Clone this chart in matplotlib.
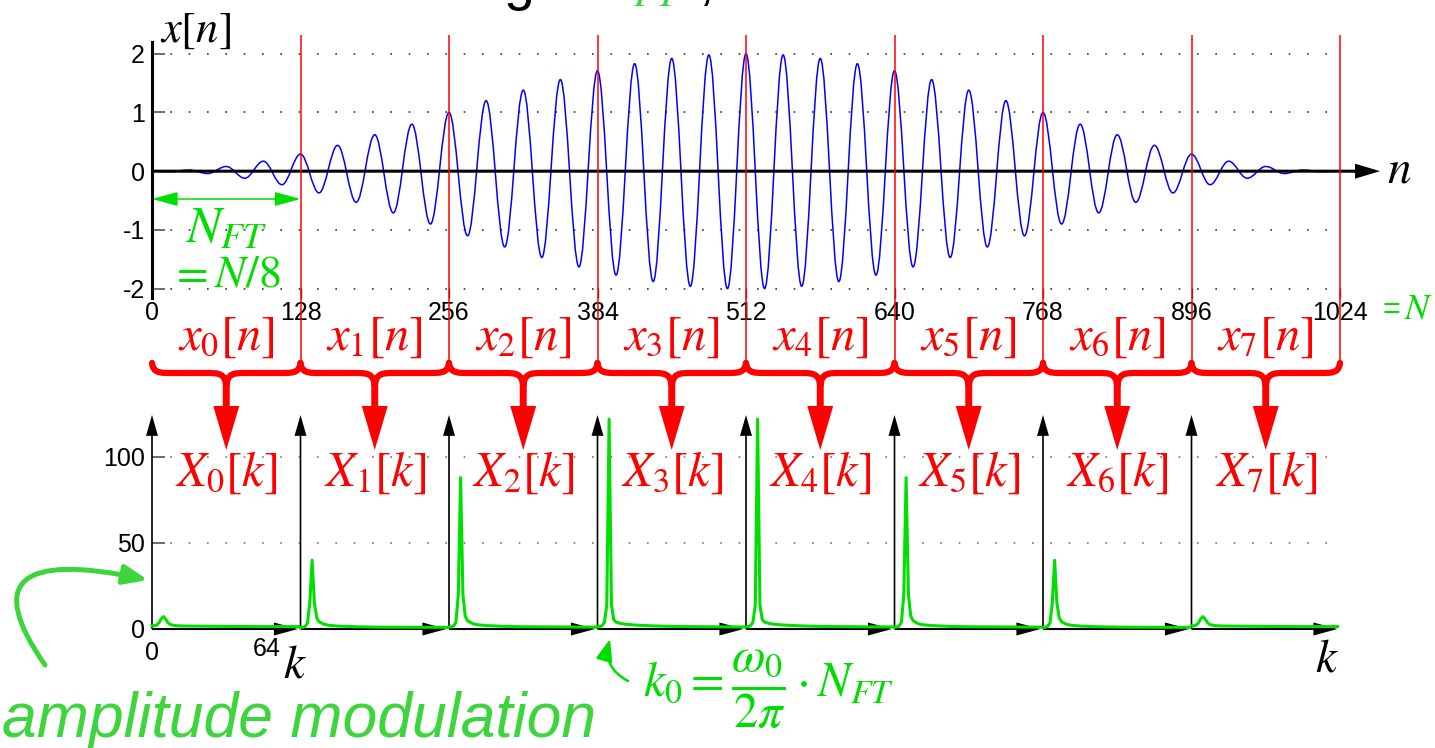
import numpy as np
import matplotlib
matplotlib.use("Agg")
import matplotlib.pyplot as plt
from matplotlib.path import Path
from matplotlib.patches import PathPatch, FancyArrowPatch, ArrowStyle
from matplotlib import transforms

plt.rcParams['mathtext.fontset'] = 'stix'
plt.rcParams['font.family'] = ['Liberation Sans', 'DejaVu Sans']
plt.rcParams['axes.unicode_minus'] = False

# ---- data ----
seg_edges = [0, 128, 256, 384, 512, 640, 768, 896, 1024]
y_ticks = [-2, -1, 0, 1, 2]

# x[n]: extrema of the AM signal, one every 16 samples (half carrier period)
n_ext = list(range(0, 1025, 16))
x_ext = [0.0, -0.01, 0.02, -0.04, 0.08, -0.12, 0.17, -0.23, 0.29, -0.37,
         0.44, -0.53, 0.62, -0.71, 0.80, -0.90, 1.00, -1.10, 1.20, -1.29,
         1.38, -1.47, 1.56, -1.63, 1.71, -1.77, 1.83, -1.88, 1.92, -1.96,
         1.98, -2.00, 2.00, -2.00, 1.98, -1.96, 1.92, -1.88, 1.83, -1.77,
         1.71, -1.63, 1.56, -1.47, 1.38, -1.29, 1.20, -1.10, 1.00, -0.90,
         0.80, -0.71, 0.62, -0.53, 0.44, -0.37, 0.29, -0.23, 0.17, -0.12,
         0.08, -0.04, 0.02, -0.01, 0.0]

# |X_i[k]| for each 128-sample segment, read at these bins
k_pts = [0, 1, 2, 3, 4, 5, 6, 7, 8, 10, 12, 16, 24, 32, 48, 63]
spec_0 = [1.8, 1.9, 2.3, 3.6, 6.0, 7.2, 5.5, 3.5, 2.5, 2.0, 1.8, 1.7, 1.6, 1.5, 1.4, 1.4]
spec_1 = [0.8, 1.0, 1.5, 3.5, 15, 40, 15, 6.5, 4.2, 2.8, 2.2, 1.7, 1.3, 1.1, 1.0, 1.0]
spec_2 = [1.0, 1.2, 1.8, 4.0, 20, 88, 20, 7.5, 4.8, 3.2, 2.5, 2.0, 1.5, 1.3, 1.2, 1.1]
spec_3 = [1.2, 1.4, 2.0, 4.0, 14, 122, 14, 5.5, 4.0, 3.2, 2.8, 2.3, 1.8, 1.5, 1.3, 1.2]
spec_4 = [1.2, 1.4, 2.0, 4.0, 14, 122, 14, 5.5, 4.0, 3.2, 2.8, 2.3, 1.8, 1.5, 1.3, 1.2]
spec_5 = [1.0, 1.2, 1.8, 4.0, 20, 88, 20, 7.5, 4.8, 3.2, 2.5, 2.0, 1.5, 1.3, 1.2, 1.1]
spec_6 = [0.8, 1.0, 1.5, 3.5, 15, 40, 15, 6.5, 4.2, 2.8, 2.2, 1.7, 1.3, 1.1, 1.0, 1.0]
spec_7 = [1.8, 1.9, 2.3, 3.6, 6.0, 7.2, 5.5, 3.5, 2.5, 2.0, 1.8, 1.7, 1.6, 1.5, 1.4, 1.4]
spectra = [spec_0, spec_1, spec_2, spec_3, spec_4, spec_5, spec_6, spec_7]
spec_ticks = [0, 50, 100]

W, H = 1435, 748
RED = '#ff0000'
GREEN = '#00dd00'
LGREEN = '#3dd43d'

fig = plt.figure(figsize=(W / 100, H / 100), dpi=100)

# ---- top: x[n] ----
ax1 = fig.add_axes([152 / W, 1 - 298 / H, 1188 / W, 256 / H])
ax1.set_xlim(0, 1024)
ax1.set_ylim(-2.16, 2.2)
for s in ['top', 'right', 'bottom']:
    ax1.spines[s].set_visible(False)
ax1.spines['left'].set_linewidth(2.2)
ax1.set_xticks(seg_edges)
ax1.set_yticks(y_ticks)
ax1.set_yticklabels([str(v) for v in y_ticks])
ax1.tick_params(axis='x', direction='in', length=7, width=1, color='#333', pad=2, labelsize=18)
ax1.tick_params(axis='y', direction='in', length=9, width=1.2, color='#555', pad=5, labelsize=18)
ax1.yaxis.grid(True, linestyle=(0, (1, 10)), color='#333', lw=1.2)

a = 0.364
verts = [(n_ext[0], x_ext[0])]
codes = [Path.MOVETO]
for i in range(1, len(n_ext)):
    h = n_ext[i] - n_ext[i - 1]
    verts += [(n_ext[i - 1] + a * h, x_ext[i - 1]), (n_ext[i] - a * h, x_ext[i]), (n_ext[i], x_ext[i])]
    codes += [Path.CURVE4] * 3
ax1.add_patch(PathPatch(Path(verts, codes), fc='none', ec='#0000ff', lw=1.1, zorder=3))

ax1.annotate('', xy=(1058.5, 0), xytext=(0, 0), annotation_clip=False,
             arrowprops=dict(arrowstyle=ArrowStyle.Simple(head_length=1.8, head_width=1.08, tail_width=0.22),
                             mutation_scale=10, fc='k', ec='none', shrinkA=0, shrinkB=0, zorder=2))

# ---- bottom: spectra ----
ax2 = fig.add_axes([152 / W, 1 - 629 / H, 1188 / W, 214 / H])
ax2.set_xlim(0, 512)
ax2.set_ylim(0, 124.4)
for s in ax2.spines.values():
    s.set_visible(False)
ax2.set_yticks(spec_ticks)
ax2.set_xticks([0])
ax2.tick_params(axis='y', direction='in', length=9, width=1.2, color='#555', pad=5, labelsize=18)
ax2.tick_params(axis='x', length=0, pad=9, labelsize=18)
ax2.yaxis.grid(True, linestyle=(0, (1, 10)), color='#777', lw=1.2)

k_arr = np.array(k_pts)
for i, spec in enumerate(spectra):
    x0 = 64 * i
    ax2.annotate('', xy=(x0 + 62.9, 0), xytext=(x0, 0), annotation_clip=False,
                 arrowprops=dict(arrowstyle=ArrowStyle.Simple(head_length=1.73, head_width=0.94, tail_width=0.15),
                                 mutation_scale=10, fc='k', ec='none', shrinkA=0, shrinkB=0))
    ax2.annotate('', xy=(x0, 124.4), xytext=(x0, 0), annotation_clip=False,
                 arrowprops=dict(arrowstyle=ArrowStyle.Simple(head_length=1.5, head_width=0.86, tail_width=0.12),
                                 mutation_scale=10, fc='k', ec='none', shrinkA=0, shrinkB=0))
    ax2.plot(x0 + k_arr, spec, color='#00e000', lw=2.2, clip_on=False, zorder=4,
             solid_joinstyle='round')

# ---- overlay: braces, arrows, labels ----
ax0 = fig.add_axes([0, 0, 1, 1], zorder=5)
ax0.set_xlim(0, W)
ax0.set_ylim(H, 0)
ax0.set_axis_off()
trans = transforms.blended_transform_factory(ax1.transData, ax0.transData)

ax0.vlines(seg_edges[1:], 35, 365, transform=trans, colors=RED, lw=1.1)

q = 17
ytop, ymid, ybot = 363, 373, 386
for i in range(8):
    xa, xb = seg_edges[i], seg_edges[i + 1]
    xc = (xa + xb) / 2
    bv = [(xa, ytop), (xa + 1, ymid), (xa + 0.4 * q, ymid), (xa + q, ymid),
          (xc - q, ymid),
          (xc - 0.4 * q, ymid), (xc - 1, ymid), (xc, ybot),
          (xc + 1, ymid), (xc + 0.4 * q, ymid), (xc + q, ymid),
          (xb - q, ymid),
          (xb - 0.4 * q, ymid), (xb - 1, ymid), (xb, ytop)]
    bc = [Path.MOVETO, Path.CURVE4, Path.CURVE4, Path.CURVE4, Path.LINETO,
          Path.CURVE4, Path.CURVE4, Path.CURVE4, Path.CURVE4, Path.CURVE4, Path.CURVE4,
          Path.LINETO, Path.CURVE4, Path.CURVE4, Path.CURVE4]
    ax0.add_patch(PathPatch(Path(bv, bc), fc='none', ec=RED, lw=4.5, transform=trans,
                            capstyle='round', joinstyle='round'))
    ax0.add_patch(FancyArrowPatch(posA=(xc, 383), posB=(xc, 450), transform=trans,
                                  arrowstyle=ArrowStyle.Simple(head_length=3.17, head_width=1.87, tail_width=0.5),
                                  mutation_scale=10, fc=RED, ec='none', shrinkA=0, shrinkB=0))
    ax0.text(xc, 350, rf'$x_{i}[n]$', transform=trans, ha='center', va='baseline', fontsize=35, color=RED)
    ax0.text(xc, 486, rf'$X_{i}[k]$', transform=trans, ha='center', va='baseline', fontsize=35, color=RED)

# N_FT span
ax0.add_patch(FancyArrowPatch(posA=(seg_edges[0], 199), posB=(seg_edges[1], 199), transform=trans,
                              arrowstyle='<|-|>,head_length=1.58,head_width=0.43', mutation_scale=10,
                              color=GREEN, lw=1.1, shrinkA=0, shrinkB=0))
ax0.text(185, 242, r'$N_{FT}$', ha='left', va='baseline', fontsize=37, color=GREEN)
ax0.text(170, 286, r'$= N/8$', ha='left', va='baseline', fontsize=33, color=GREEN)
ax0.text(1383, 318, '=', ha='left', va='baseline', fontsize=22, color=GREEN)
ax0.text(1404, 318, r'$N$', ha='left', va='baseline', fontsize=26, color=GREEN)

# axis names
ax0.text(160, 42, r'$x[n]$', ha='left', va='baseline', fontsize=32)
ax0.text(1387, 182, r'$n$', ha='left', va='baseline', fontsize=34)
ax0.text(295, 678, r'$k$', ha='center', va='baseline', fontsize=34)
ax0.text(1327, 672, r'$k$', ha='center', va='baseline', fontsize=34)
ax0.text(267, 649, '64', ha='center', va='center', fontsize=18)

# annotations
ax0.text(2, 737, 'amplitude modulation', ha='left', va='baseline', fontsize=45,
         style='italic', color=LGREEN)
ax0.add_patch(FancyArrowPatch(posA=(45, 665), posB=(148, 580),
                              connectionstyle='angle3,angleA=125,angleB=-12',
                              arrowstyle='-|>,head_length=1.44,head_width=0.58', mutation_scale=10,
                              color=LGREEN, lw=3.6, shrinkA=0, shrinkB=0))
ax0.text(643, 697, r'$k_0 = \dfrac{\omega_0}{2\pi} \cdot N_{FT}$', ha='left', va='baseline',
         fontsize=35, color=GREEN)
ax0.add_patch(FancyArrowPatch(posA=(628, 681), posB=(610, 639), connectionstyle='arc3,rad=-0.4',
                              arrowstyle='-|>,head_length=1.3,head_width=0.5', mutation_scale=10,
                              color=GREEN, lw=1.8, shrinkA=0, shrinkB=0))

# title (cut off at the top edge, as in the source slide)
fig.text(535 / W, 1 + 1 / H, 'Choosing', ha='right', va='baseline', fontsize=40)
fig.text(595 / W, 1 + 1 / H, r'$N_{FT}$', ha='left', va='baseline', fontsize=40, color=LGREEN)
fig.text(698 / W, 1 + 1 / H, ',', ha='left', va='baseline', fontsize=40)

fig.savefig('out.png', dpi=100)
